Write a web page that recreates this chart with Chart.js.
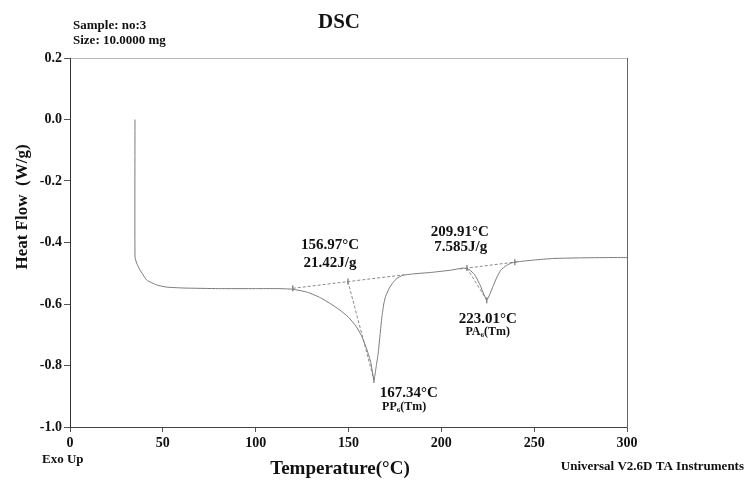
<!DOCTYPE html>
<html>
<head>
<meta charset="utf-8">
<script src="https://cdn.jsdelivr.net/npm/chart.js@4"></script>
<style>
  html, body { margin: 0; padding: 0; background: #fff; }
  #wrap { width: 746px; height: 487px; }
</style>
</head>
<body>
<div id="wrap"><canvas id="dsc" width="746" height="487"></canvas></div>
<script>
// DSC trace (°C, W/g)
const temperature = [35, 35, 35.9, 37.7, 41.3, 46.7, 52, 61, 80, 100, 112, 120, 128, 135, 140, 145, 150, 154,
  157, 160, 162, 163.7, 165, 166, 167, 168, 169, 170, 172, 174, 176, 179, 185, 195, 205, 212, 215, 218,
  221, 223, 224.5, 226, 228, 230, 232, 235, 238, 242, 250, 260, 275, 290, 300];
const heatFlow = [0.0, -0.447, -0.467, -0.489, -0.522, -0.538, -0.545, -0.548, -0.55, -0.55, -0.55, -0.552, -0.562, -0.58, -0.598, -0.618, -0.643, -0.672,
  -0.703, -0.75, -0.79, -0.847, -0.80, -0.76, -0.70, -0.642, -0.60, -0.575, -0.548, -0.53, -0.517, -0.507, -0.502, -0.497, -0.49, -0.483, -0.488, -0.505,
  -0.54, -0.57, -0.587, -0.57, -0.54, -0.512, -0.49, -0.475, -0.466, -0.462, -0.457, -0.452, -0.45, -0.449, -0.449];

// integration baselines and onset tangents
const baseline1T = [120, 180];
const baseline1H = [-0.549, -0.505];
const baseline2T = [210, 242];
const baseline2H = [-0.486, -0.462];
const tangent1T = [149.7, 163.7];
const tangent1H = [-0.527, -0.847];
const tangent2T = [213.8, 224.5];
const tangent2H = [-0.483, -0.588];

// small tick marks on the analysis points
const markT = [120, 149.7, 163.7, 213.8, 224.5, 239.6];
const markH = [-0.549, -0.527, -0.847, -0.483, -0.588, -0.464];

// axis ticks
const xTicks = [0, 50, 100, 150, 200, 250, 300];
const yTicks = [0.2, 0.0, -0.2, -0.4, -0.6, -0.8, -1.0];

// peak labels (anchor in data units)
const peakNotes = [
  { t: 140, h: -0.408, text: '156.97°C', size: 15 },
  { t: 140, h: -0.467, text: '21.42J/g', size: 15 },
  { t: 210, h: -0.366, text: '209.91°C', size: 15 },
  { t: 210.5, h: -0.415, text: '7.585J/g', size: 15 },
  { t: 225, h: -0.649, text: '223.01°C', size: 15 },
  { t: 225, h: -0.691, text: 'PA₆(Tm)', size: 12 },
  { t: 182.5, h: -0.889, text: '167.34°C', size: 15 },
  { t: 180, h: -0.935, text: 'PP₆(Tm)', size: 12 }
];

const serif = "'Liberation Serif', 'Times New Roman', serif";

const pts = (xs, ys) => xs.map((x, i) => ({ x: x, y: ys[i] }));

const textPlugin = {
  id: 'dscText',
  afterDraw(chart) {
    const ctx = chart.ctx;
    const sx = chart.scales.x, sy = chart.scales.y;
    ctx.save();
    ctx.fillStyle = '#111';
    ctx.textBaseline = 'middle';

    // peak annotations
    ctx.textAlign = 'center';
    peakNotes.forEach(n => {
      ctx.font = 'bold ' + n.size + 'px ' + serif;
      ctx.fillText(n.text, sx.getPixelForValue(n.t), sy.getPixelForValue(n.h));
    });

    // header
    ctx.textBaseline = 'alphabetic';
    ctx.font = 'bold 21px ' + serif;
    ctx.fillText('DSC', 339, 28);
    ctx.textAlign = 'left';
    ctx.font = 'bold 13px ' + serif;
    ctx.fillText('Sample: no:3', 73, 29);
    ctx.fillText('Size: 10.0000 mg', 73, 44);

    // footer
    ctx.textBaseline = 'middle';
    ctx.font = 'bold 13px ' + serif;
    ctx.fillText('Exo Up', 42, 460);
    ctx.textAlign = 'right';
    ctx.fillText('Universal V2.6D TA Instruments', 744, 467);
    ctx.textAlign = 'center';
    ctx.font = 'bold 19px ' + serif;
    ctx.fillText('Temperature(°C)', 340, 469);

    // y title
    ctx.translate(23, 207);
    ctx.rotate(-Math.PI / 2);
    ctx.font = 'bold 17px ' + serif;
    ctx.fillText('Heat Flow  (W/g)', 0, 0);
    ctx.restore();
  }
};

new Chart(document.getElementById('dsc'), {
  type: 'line',
  data: {
    datasets: [
      {
        data: pts(temperature, heatFlow),
        borderColor: '#7a7a7a',
        borderWidth: 1,
        pointRadius: 0,
        tension: 0.15
      },
      {
        data: pts(baseline1T, baseline1H),
        borderColor: '#8a8a8a', borderWidth: 1, borderDash: [3, 2], pointRadius: 0
      },
      {
        data: pts(baseline2T, baseline2H),
        borderColor: '#8a8a8a', borderWidth: 1, borderDash: [3, 2], pointRadius: 0
      },
      {
        data: pts(tangent1T, tangent1H),
        borderColor: '#8a8a8a', borderWidth: 1, borderDash: [3, 2], pointRadius: 0
      },
      {
        data: pts(tangent2T, tangent2H),
        borderColor: '#8a8a8a', borderWidth: 1, borderDash: [3, 2], pointRadius: 0
      },
      {
        data: pts(markT, markH),
        showLine: false,
        pointStyle: 'line',
        rotation: 90,
        pointRadius: 3,
        borderColor: '#555',
        borderWidth: 1
      }
    ]
  },
  options: {
    responsive: false,
    animation: false,
    devicePixelRatio: 1,
    layout: { padding: { top: 58, right: 119, bottom: 0, left: 0 } },
    plugins: {
      legend: { display: false },
      tooltip: { enabled: false }
    },
    scales: {
      x: {
        type: 'linear',
        position: 'bottom',
        min: 0, max: 300,
        afterBuildTicks: s => { s.ticks = xTicks.map(v => ({ value: v })); },
        afterFit: s => { s.height = 60; },
        ticks: {
          color: '#111',
          font: { family: serif, size: 14, weight: 'bold' },
          padding: 3,
          maxRotation: 0
        },
        grid: { drawOnChartArea: false, tickLength: 5, color: '#555' },
        border: { color: '#444', width: 1 }
      },
      x2: {
        type: 'linear',
        position: 'top',
        min: 0, max: 300,
        afterFit: s => { s.height = 0; },
        ticks: { display: false },
        grid: { display: false },
        border: { color: '#bbb', width: 1, dash: [1, 4] }
      },
      y: {
        type: 'linear',
        min: -1.0, max: 0.2,
        afterBuildTicks: s => { s.ticks = yTicks.map(v => ({ value: v })); },
        afterFit: s => { s.width = 70; },
        ticks: {
          color: '#111',
          font: { family: serif, size: 14, weight: 'bold' },
          padding: 2,
          callback: v => (Math.abs(v) < 1e-9 ? 0 : v).toFixed(1)
        },
        grid: { drawOnChartArea: false, tickLength: 6, color: '#555' },
        border: { color: '#333', width: 1 }
      },
      y2: {
        type: 'linear',
        position: 'right',
        min: -1.0, max: 0.2,
        afterFit: s => { s.width = 0; },
        ticks: { display: false },
        grid: { display: false },
        border: { color: '#666', width: 1 }
      }
    }
  },
  plugins: [textPlugin]
});
</script>
</body>
</html>
